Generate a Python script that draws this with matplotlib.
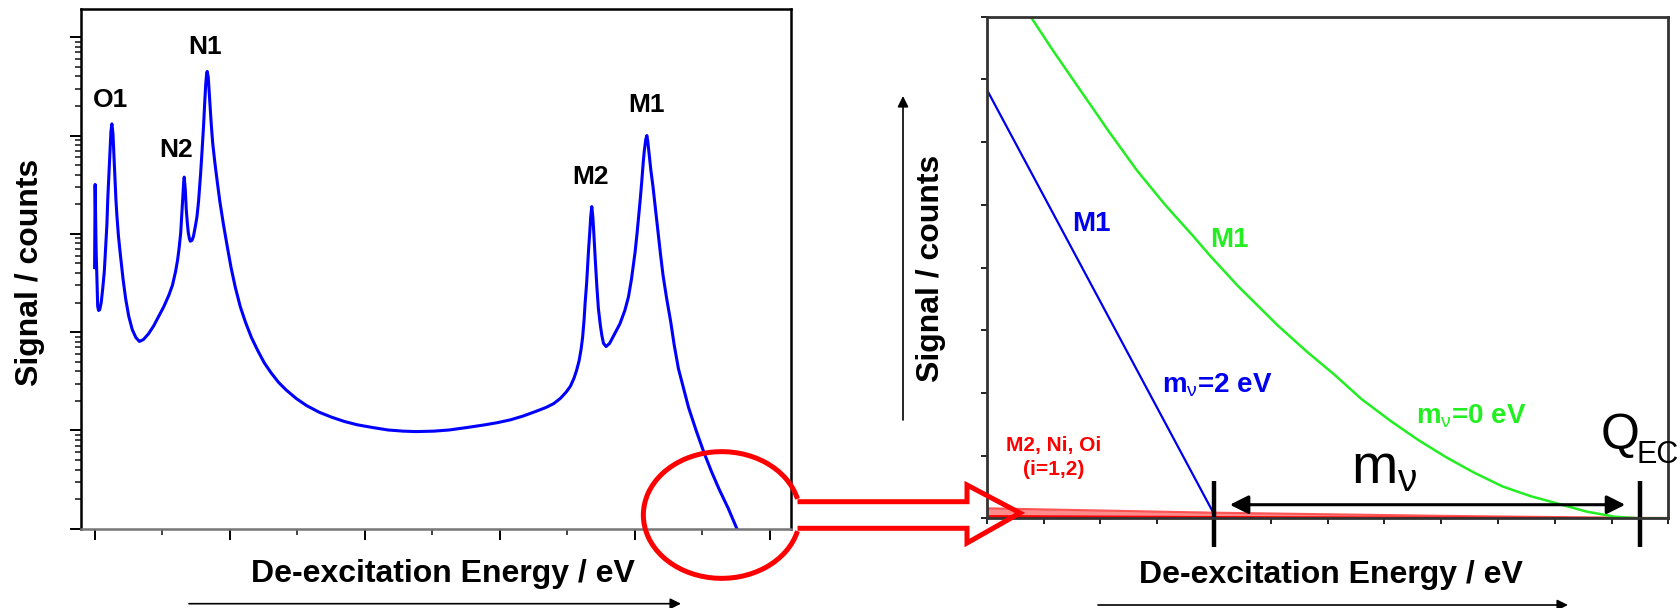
import numpy as np
import matplotlib.pyplot as plt
from matplotlib.patches import Arc
from matplotlib.ticker import MultipleLocator, LogLocator, NullFormatter

plt.rcParams['font.family'] = ['Liberation Sans', 'DejaVu Sans']
plt.rcParams['mathtext.fontset'] = 'custom'
plt.rcParams['mathtext.rm'] = 'Liberation Sans'
plt.rcParams['mathtext.it'] = 'Liberation Sans'

# ---- left panel: full de-excitation spectrum (log scale) ----
energy = [0.000, 0.004, 0.008, 0.011, 0.019, 0.023, 0.030, 0.038, 0.049, 0.060,
          0.072, 0.083, 0.091, 0.098, 0.106, 0.113, 0.121, 0.128, 0.136, 0.143,
          0.151, 0.158, 0.166, 0.177, 0.192, 0.211, 0.230, 0.253, 0.279, 0.306,
          0.332, 0.362, 0.400, 0.438, 0.475, 0.513, 0.551, 0.577, 0.600, 0.615,
          0.626, 0.638, 0.645, 0.653, 0.660, 0.664, 0.672, 0.679, 0.687, 0.694,
          0.702, 0.709, 0.721, 0.732, 0.743, 0.758, 0.770, 0.785, 0.796, 0.808,
          0.815, 0.823, 0.830, 0.834, 0.842, 0.853, 0.864, 0.875, 0.891, 0.909,
          0.928, 0.955, 0.985, 1.011, 1.042, 1.079, 1.117, 1.162, 1.211, 1.257,
          1.306, 1.362, 1.419, 1.494, 1.570, 1.664, 1.758, 1.853, 1.947, 2.060,
          2.174, 2.287, 2.381, 2.513, 2.626, 2.758, 2.891, 2.985, 3.079, 3.174,
          3.268, 3.343, 3.400, 3.449, 3.494, 3.525, 3.551, 3.570, 3.589, 3.604,
          3.615, 3.626, 3.634, 3.645, 3.653, 3.660, 3.668, 3.675, 3.683, 3.691,
          3.698, 3.709, 3.721, 3.732, 3.747, 3.758, 3.770, 3.789, 3.815, 3.853,
          3.891, 3.928, 3.955, 3.977, 4.004, 4.019, 4.030, 4.042, 4.053, 4.064,
          4.072, 4.083, 4.091, 4.098, 4.109, 4.121, 4.136, 4.155, 4.174, 4.192,
          4.211, 4.238, 4.268, 4.294, 4.325, 4.362, 4.400, 4.457, 4.513, 4.570,
          4.626, 4.694, 4.758]
signal = [453, 3177, 1479, 714, 287, 182, 166, 169, 200, 275,
          414, 782, 1233, 2333, 4027, 6637, 10960, 13140, 10470, 6339,
          3673, 2228, 1479, 938, 595, 345, 219, 145, 106, 88,
          80.4, 84.1, 96.4, 116, 145, 182, 239, 301, 414, 543,
          714, 1028, 1479, 2333, 3357, 3776, 2799, 1775, 1291, 1028,
          897, 841, 857, 938, 1125, 1479, 2128, 4027, 6950, 13140,
          20700, 32660, 42870, 44900, 39170, 22700, 13140, 8337, 5289, 3357,
          2128, 1233, 714, 453, 287, 182, 127, 88, 64, 48.7,
          38.8, 30.9, 25.8, 21.1, 17.9, 15.3, 13.6, 12.3, 11.4, 10.7,
          10.1, 9.83, 9.73, 9.83, 10.1, 10.7, 11.4, 12.0, 12.8, 14.0,
          15.6, 17.1, 18.7, 21.1, 24.6, 28.2, 33.9, 40.6, 51, 67,
          88, 133, 200, 315, 496, 714, 1028, 1479, 1892, 1479,
          1028, 543, 287, 174, 116, 92.1, 76.8, 71.4, 76.8, 96.4,
          121, 166, 229, 345, 652, 1028, 1479, 2228, 3357, 5289,
          6950, 9124, 10000, 8724, 6339, 4406, 3062, 1775, 1028, 623,
          378, 219, 127, 73.4, 42.5, 27.0, 17.1, 9.91, 6.01, 3.81,
          2.53, 1.61, 1.0]

peak_names = ['O1', 'N2', 'N1', 'M2', 'M1']
peak_x = [0.119, 0.604, 0.821, 3.674, 4.088]
peak_y = [22900, 7130, 80000, 3820, 20300]

# ---- right panel: end point region (linear scale) ----
m2_x = [0.0, 4.0]
m2_y = [6.84, 0.07]
m0_x = [0.774, 1.159, 1.654, 2.149, 2.643, 3.140, 3.635, 3.930, 4.427, 5.119,
        5.614, 6.109, 6.600, 7.100, 7.595, 8.090, 8.585, 9.079, 9.573, 10.07,
        10.56, 11.06, 11.50, 12.0]
m0_y = [8.0, 7.47, 6.82, 6.17, 5.55, 5.00, 4.50, 4.19, 3.70, 3.08,
        2.675, 2.30, 1.90, 1.56, 1.25, 0.973, 0.726, 0.509, 0.354, 0.23,
        0.107, 0.025, 0.0, 0.0]
bg_x = [0.0, 4.0, 8.0, 12.0]
bg_hi = [0.16, 0.09, 0.04, 0.0]
bg_lo = [0.03, 0.015, 0.005, 0.0]
endpoint_x = [4.0, 11.5]

fig = plt.figure(figsize=(16.81, 6.08), dpi=100)

ax1 = fig.add_axes([0.0480, 0.1304, 0.4224, 0.8543])
ax1.plot(energy, signal, color='#0000ff', lw=2.2)
ax1.set_yscale('log')
ax1.set_xlim(-0.103, 5.157)
ax1.set_ylim(1, 10 ** 5.284)
ax1.xaxis.set_major_locator(MultipleLocator(1))
ax1.xaxis.set_minor_locator(MultipleLocator(0.5))
ax1.yaxis.set_major_locator(LogLocator(base=10, numticks=10))
ax1.yaxis.set_minor_locator(LogLocator(base=10, subs=np.arange(2, 10), numticks=20))
ax1.xaxis.set_major_formatter(NullFormatter())
ax1.xaxis.set_minor_formatter(NullFormatter())
ax1.yaxis.set_major_formatter(NullFormatter())
ax1.yaxis.set_minor_formatter(NullFormatter())
ax1.tick_params(which='major', direction='out', length=7.7, width=1.4, color='black')
ax1.tick_params(which='minor', direction='out', length=4, width=1.2, color='#222222')
for s in ax1.spines.values():
    s.set_linewidth(1.8)
ax1.spines['bottom'].set_color('#777777')
for name, px, py in zip(peak_names, peak_x, peak_y):
    ax1.text(px, py, name, ha='center', va='center', fontsize=19, fontweight='bold')
ax1.text(-0.0714, 0.494, 'Signal / counts', rotation=90, transform=ax1.transAxes,
         ha='center', va='center', fontsize=23, fontweight='bold')
ax1.text(0.51, -0.088, 'De-excitation Energy / eV', transform=ax1.transAxes,
         ha='center', va='center', fontsize=23, fontweight='bold')

ax2 = fig.add_axes([0.5870, 0.1475, 0.4055, 0.8250])
ax2.fill_between(bg_x, bg_lo, bg_hi, color='#ff0000', alpha=0.45, lw=0)
ax2.plot(bg_x, bg_hi, color='#ff3030', lw=1.5, alpha=0.8)
ax2.plot(bg_x, bg_lo, color='#ff0000', lw=2)
ax2.plot(m2_x, m2_y, color='#0000ee', lw=1.6)
ax2.plot(m0_x, m0_y, color='#22ee22', lw=1.8)
ax2.set_xlim(0, 12)
ax2.set_ylim(0, 8)
ax2.xaxis.set_major_locator(MultipleLocator(1))
ax2.yaxis.set_major_locator(MultipleLocator(1))
ax2.set_xticklabels([])
ax2.set_yticklabels([])
ax2.tick_params(direction='out', length=4.3, width=1.4, color='#222222')
for s in ax2.spines.values():
    s.set_linewidth(2)
    s.set_color('#333333')
for ex in endpoint_x:
    ax2.plot([ex, ex], [0.60, -0.45], color='black', lw=3.2, clip_on=False,
             solid_capstyle='butt')
ax2.annotate('', xy=(4.28, 0.217), xytext=(11.24, 0.217),
             arrowprops=dict(arrowstyle='<|-|>', color='black', lw=2.2,
                             mutation_scale=28, shrinkA=0, shrinkB=0))
ax2.text(1.85, 4.69, 'M1', color='#0000ee', ha='center', va='center',
         fontsize=20, fontweight='bold')
ax2.text(4.28, 4.44, 'M1', color='#22ee22', ha='center', va='center',
         fontsize=20, fontweight='bold')
ax2.text(4.05, 2.12, r'm$_\nu$=2 eV', color='#0000ee', ha='center', va='center',
         fontsize=20, fontweight='bold')
ax2.text(8.53, 1.62, r'm$_\nu$=0 eV', color='#22ee22', ha='center', va='center',
         fontsize=20, fontweight='bold')
ax2.text(1.18, 0.97, 'M2, Ni, Oi\n(i=1,2)', color='#ff0000', ha='center',
         va='center', fontsize=15, fontweight='bold', linespacing=1.3)
ax2.text(7.0, 0.56, r'm$_\nu$', ha='center', va='baseline', fontsize=40)
ax2.text(10.81, 1.10, 'Q', ha='left', va='baseline', fontsize=36)
ax2.text(11.44, 0.88, 'EC', ha='left', va='baseline', fontsize=22,
         family=['Liberation Sans Narrow', 'Liberation Sans'])
ax2.text(-0.0817, 0.499, 'Signal / counts', rotation=90, transform=ax2.transAxes,
         ha='center', va='center', fontsize=23, fontweight='bold')
ax2.text(0.505, -0.113, 'De-excitation Energy / eV', transform=ax2.transAxes,
         ha='center', va='center', fontsize=23, fontweight='bold')

# ---- overlay in pixel coordinates for the zoom marker and axis arrows ----
ov = fig.add_axes([0, 0, 1, 1], facecolor='none')
ov.set_xlim(0, 1681)
ov.set_ylim(608, 0)
ov.axis('off')
ov.add_patch(Arc((721.7, 515), 156.7, 126.7, theta1=12, theta2=348,
                 color='#ff0000', lw=3.6))
ov.plot([800, 967, 967, 1020, 967, 967, 800],
        [501.7, 501.7, 485, 513, 543, 528.3, 528.3],
        color='#ff0000', lw=3.6, solid_joinstyle='miter')
arrow_kw = dict(arrowstyle='-|>', color='black', lw=1.2, mutation_scale=16,
                shrinkA=0, shrinkB=0)
ov.annotate('', xy=(681, 603.7), xytext=(189, 603.7), arrowprops=arrow_kw)
ov.annotate('', xy=(1568, 605), xytext=(1098, 605), arrowprops=arrow_kw)
ov.annotate('', xy=(903, 96), xytext=(903, 420), arrowprops=arrow_kw)

fig.savefig('out.png', dpi=100)
